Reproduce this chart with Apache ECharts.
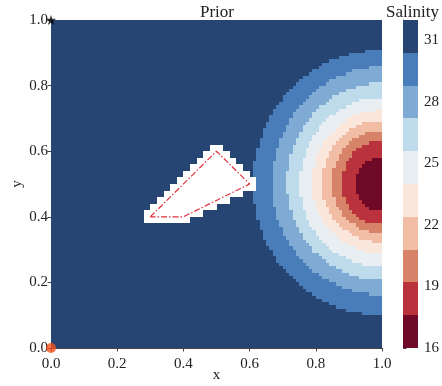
<!DOCTYPE html>
<html>
<head>
<meta charset="utf-8">
<script src="https://cdn.jsdelivr.net/npm/echarts@6/dist/echarts.min.js"></script>
<style>
  html, body { margin: 0; padding: 0; background: #fff; }
  #chart { width: 442px; height: 386px; }
</style>
</head>
<body>
<div id="chart"></div>
<script>
// colour levels of the salinity field (10 bands)
var levels = [16, 17.6, 19.2, 20.8, 22.4, 24, 25.6, 27.2, 28.8, 30.4, 32];
var bandColors = ['#6e0a28', '#b9323c', '#d6836a', '#f1bea5', '#fbe6dc',
                  '#e8eef2', '#bedbec', '#7eaad3', '#487db9', '#264573'];
var colorbarTicks = [16, 19, 22, 25, 28, 31];

// contour extents, inner (17.6) to outer (30.4)
var plumeCenter = [1.0, 0.5];
var contourLeft = [0.082, 0.121, 0.151, 0.181, 0.211, 0.248, 0.287, 0.332, 0.39];
var contourUp = [0.082, 0.134, 0.165, 0.195, 0.226, 0.265, 0.308, 0.357, 0.409];
var contourDown = [0.085, 0.125, 0.15, 0.177, 0.21, 0.253, 0.293, 0.338, 0.40];

// obstacle outline and markers
var obstacle = [[0.3, 0.4], [0.5, 0.6], [0.6, 0.5], [0.4, 0.4]];
var startPoint = [[0, 0]];
var goalPoint = [[0, 1]];

var cellSize = 0.01;
var maskBlock = 0.02;
var maskMargin = 0.022;

function insidePoly(px, py, poly) {
  var inside = false;
  for (var i = 0, j = poly.length - 1; i < poly.length; j = i++) {
    var xi = poly[i][0], yi = poly[i][1], xj = poly[j][0], yj = poly[j][1];
    if (((yi > py) !== (yj > py)) && (px < (xj - xi) * (py - yi) / (yj - yi) + xi)) inside = !inside;
  }
  return inside;
}
function distSeg(px, py, a, b) {
  var dx = b[0] - a[0], dy = b[1] - a[1];
  var t = ((px - a[0]) * dx + (py - a[1]) * dy) / (dx * dx + dy * dy);
  t = Math.max(0, Math.min(1, t));
  var qx = a[0] + t * dx - px, qy = a[1] + t * dy - py;
  return Math.sqrt(qx * qx + qy * qy);
}
// obstacle mask on a coarser block grid
function masked(x, y) {
  var bx = (Math.floor(x / maskBlock) + 0.5) * maskBlock;
  var by = (Math.floor(y / maskBlock) + 0.5) * maskBlock;
  if (insidePoly(bx, by, obstacle)) return true;
  for (var i = 0; i < obstacle.length; i++) {
    if (distSeg(bx, by, obstacle[i], obstacle[(i + 1) % obstacle.length]) <= maskMargin) return true;
  }
  return false;
}

// which band a cell falls in, from the read contour extents
function bandOf(x, y) {
  var dx = plumeCenter[0] - x, dy = y - plumeCenter[1];
  for (var k = 0; k < contourLeft.length; k++) {
    var b = dy >= 0 ? contourUp[k] : contourDown[k];
    var r = (dx / contourLeft[k]) * (dx / contourLeft[k]) + (dy / b) * (dy / b);
    if (r <= 1) return k;
  }
  return contourLeft.length;
}

// cells grouped into vertical runs of one band: [x, yLow, yHigh, band]
var runs = [];
var n = Math.round(1 / cellSize);
for (var i = 0; i < n; i++) {
  var cx = (i + 0.5) * cellSize, run = null;
  for (var j = 0; j < n; j++) {
    var cy = (j + 0.5) * cellSize;
    var k = masked(cx, cy) ? -1 : bandOf(cx, cy);
    if (run && run[3] === k) { run[2] = (j + 1) * cellSize; continue; }
    if (run && run[3] >= 0) runs.push(run);
    run = [cx, j * cellSize, (j + 1) * cellSize, k];
  }
  if (run && run[3] >= 0) runs.push(run);
}

var bands = [];
for (var b = 0; b < bandColors.length; b++) bands.push([levels[b], levels[b + 1], b]);

var font = 'Liberation Serif';
var chart = echarts.init(document.getElementById('chart'));
chart.setOption({
  animation: false,
  textStyle: { fontFamily: font },
  title: [
    { text: 'Prior', left: 195, top: -1,
      textStyle: { fontFamily: font, fontSize: 17, fontWeight: 'normal', color: '#222' } },
    { text: 'Salinity', left: 381, top: -1,
      textStyle: { fontFamily: font, fontSize: 17, fontWeight: 'normal', color: '#222' } }
  ],
  grid: [
    { left: 51, top: 20, width: 331, height: 328, containLabel: false, outerBoundsMode: 'none' },
    { left: 403, top: 20, width: 15, height: 328, containLabel: false, outerBoundsMode: 'none' }
  ],
  xAxis: [
    { gridIndex: 0, type: 'value', min: 0, max: 1, interval: 0.2,
      name: 'x', nameLocation: 'middle', nameGap: 20, nameMoveOverlap: false,
      nameTextStyle: { fontFamily: font, fontSize: 15, color: '#222' },
      axisLine: { show: true, lineStyle: { color: '#444', width: 1 } },
      axisTick: { show: true, length: 3.5, lineStyle: { color: '#444' } },
      axisLabel: { fontFamily: font, fontSize: 15, color: '#222', margin: 9,
                   formatter: function (v) { return v.toFixed(1); } },
      splitLine: { show: false } },
    { gridIndex: 1, type: 'value', min: 0, max: 1, show: false }
  ],
  yAxis: [
    { gridIndex: 0, type: 'value', min: 0, max: 1, interval: 0.2,
      name: 'y', nameLocation: 'middle', nameGap: 26, nameMoveOverlap: false,
      nameTextStyle: { fontFamily: font, fontSize: 15, color: '#222' },
      axisLine: { show: true, lineStyle: { color: '#444', width: 1 } },
      axisTick: { show: true, length: 3.5, lineStyle: { color: '#444' } },
      axisLabel: { fontFamily: font, fontSize: 15, color: '#222', margin: 3,
                   formatter: function (v) { return v.toFixed(1); } },
      splitLine: { show: false } },
    { gridIndex: 1, type: 'value', min: 16, max: 32, position: 'right',
      axisLine: { show: true, lineStyle: { color: '#555', width: 0.8 } },
      axisTick: { show: true, length: 3.5, lineStyle: { color: '#444' }, customValues: colorbarTicks },
      axisLabel: { fontFamily: font, fontSize: 15, color: '#222', margin: 6, customValues: colorbarTicks },
      splitLine: { show: false } }
  ],
  series: [
    {
      type: 'custom', xAxisIndex: 0, yAxisIndex: 0, data: runs,
      renderItem: function (params, api) {
        var x = api.value(0), h = cellSize / 2;
        var p0 = api.coord([x - h, api.value(2)]);
        var p1 = api.coord([x + h, api.value(1)]);
        var x0 = Math.round(p0[0]), x1 = Math.round(p1[0]);
        var y0 = Math.round(p0[1]), y1 = Math.round(p1[1]);
        return { type: 'rect',
          shape: { x: x0, y: y0, width: x1 - x0, height: y1 - y0 },
          style: { fill: bandColors[api.value(3)] } };
      }
    },
    {
      type: 'custom', xAxisIndex: 1, yAxisIndex: 1, data: bands,
      renderItem: function (params, api) {
        var p0 = api.coord([0, api.value(1)]);
        var p1 = api.coord([1, api.value(0)]);
        var y0 = Math.round(p0[1]), y1 = Math.round(p1[1]);
        return { type: 'rect',
          shape: { x: p0[0], y: y0, width: p1[0] - p0[0], height: y1 - y0 },
          style: { fill: bandColors[api.value(2)] } };
      }
    },
    {
      type: 'line', xAxisIndex: 0, yAxisIndex: 0,
      data: obstacle.concat([obstacle[0]]), symbol: 'none',
      lineStyle: { color: '#e0303a', width: 1.2, type: [6, 2, 1.5, 2] }
    },
    {
      type: 'scatter', xAxisIndex: 0, yAxisIndex: 0, data: startPoint, clip: false,
      symbol: 'circle', symbolSize: 10, itemStyle: { color: '#f4511e' }
    },
    {
      type: 'scatter', xAxisIndex: 0, yAxisIndex: 0, data: goalPoint, clip: false,
      symbol: 'path://M0,-10 L2.35,-3.24 L9.51,-3.09 L3.8,1.24 L5.88,8.09 L0,4 L-5.88,8.09 L-3.8,1.24 L-9.51,-3.09 L-2.35,-3.24 Z',
      symbolSize: 10, itemStyle: { color: '#000' }
    }
  ]
});
</script>
</body>
</html>
